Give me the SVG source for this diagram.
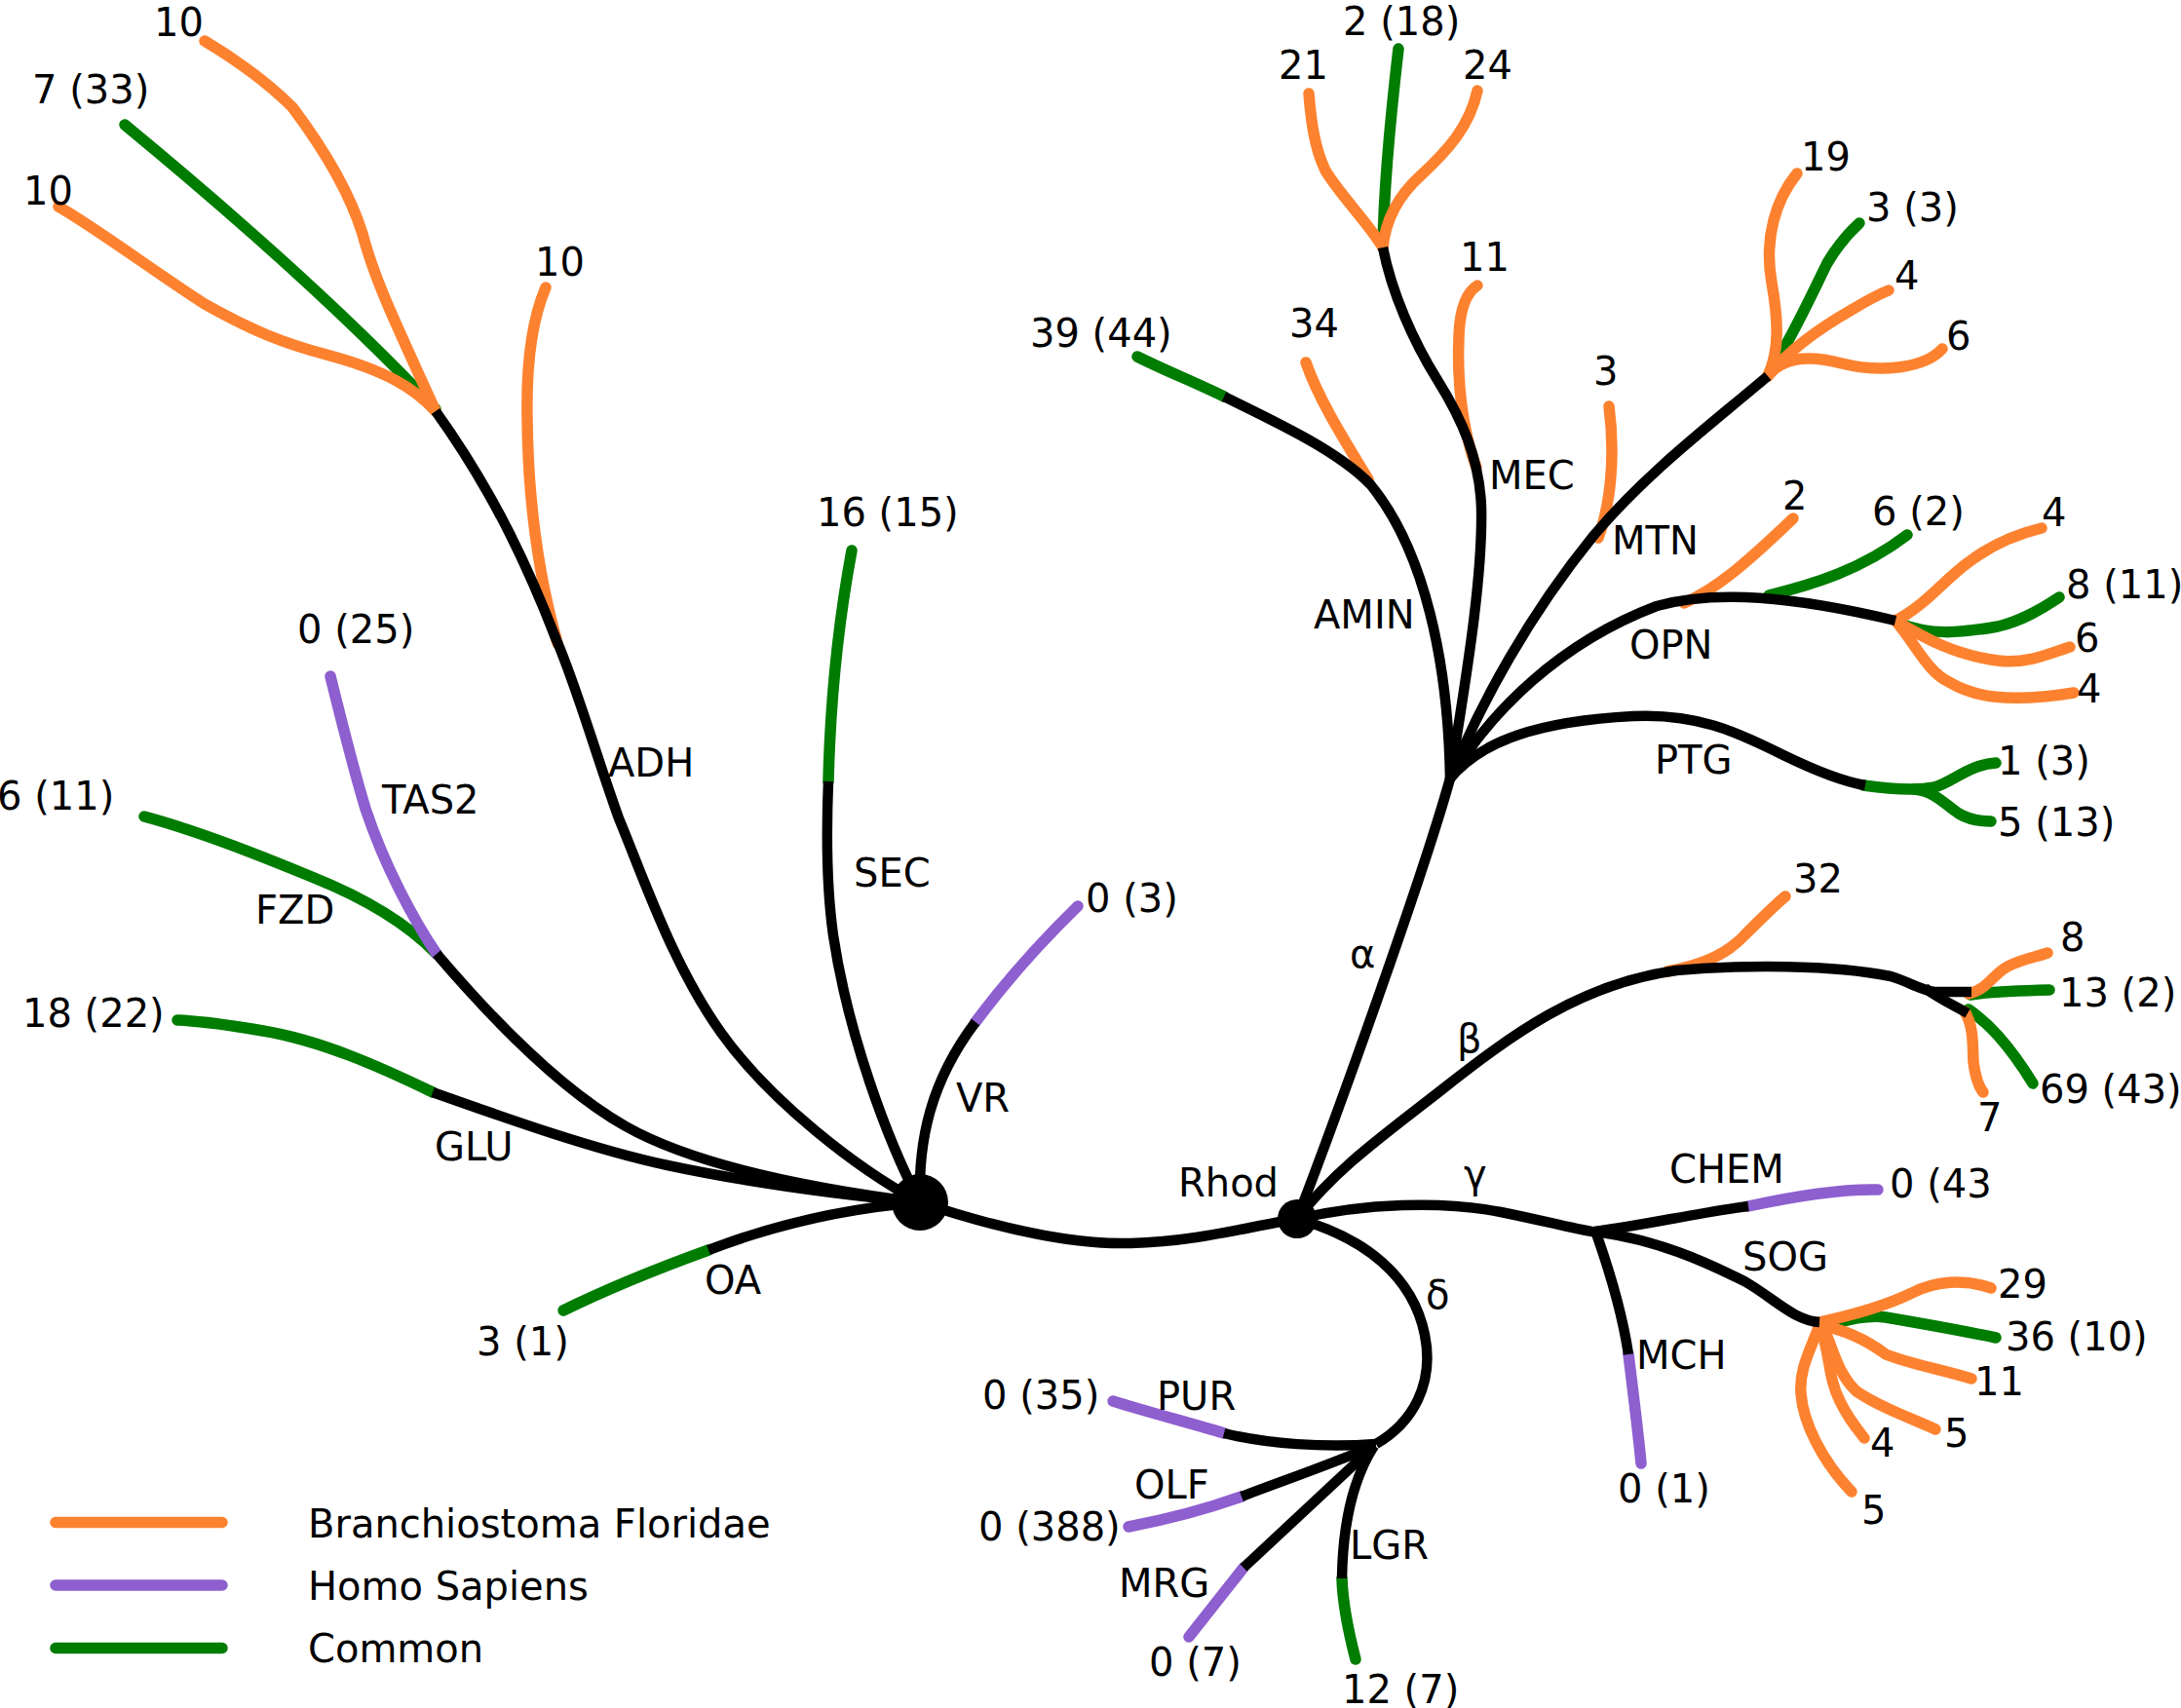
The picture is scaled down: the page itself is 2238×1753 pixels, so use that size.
<svg xmlns="http://www.w3.org/2000/svg" width="2238" height="1753" viewBox="0 0 2238 1753">
<style>
path{fill:none}
.k{stroke:#000;stroke-width:10.5;stroke-linecap:butt;stroke-linejoin:round}
.o,.p,.g{stroke-width:11.5;stroke-linecap:round;stroke-linejoin:round}
.o{stroke:#fd8230}
.p{stroke:#8e5fcf}
.g{stroke:#007c00}
text{font-family:"DejaVu Sans","Liberation Sans",sans-serif;font-size:40px;fill:#000}
</style>
<rect width="2238" height="1753" fill="#fff"/>
<g id="connectors">
<g id="colored">
<path class="g" d="M447,420 C400,370 300,270 128,128"/>
<path class="o" d="M447,422 C410,340 385,290 372,240 C358,195 330,150 300,110 C270,80 240,60 210,42"/>
<path class="o" d="M447,422 C425,398 395,380 335,364 C290,352 260,340 210,312 C160,280 100,235 60,212"/>
<path class="o" d="M560,295 C545,330 540,380 541,430 C542,520 555,600 572,660"/>
<path class="g" d="M448,979 C415,945 370,920 320,900 C260,875 200,852 148,838"/>
<path class="p" d="M448,979 C425,945 395,890 375,830 C360,780 348,730 339,694"/>
<path class="g" d="M444,1121 C390,1095 330,1068 270,1058 C235,1052 210,1048 182,1047"/>
<path class="g" d="M727,1283 C680,1300 625,1322 578,1345"/>
<path class="g" d="M850,802 C852,720 860,640 874,565"/>
<path class="p" d="M1001,1049 C1030,1010 1070,965 1106,930"/>
<path class="g" d="M1256,407 C1225,392 1195,380 1167,366"/>
<path class="o" d="M1404,492 C1385,460 1355,415 1340,372"/>
<path class="o" d="M1515,480 C1500,440 1495,390 1497,345 C1498,315 1505,300 1516,293"/>
<path class="g" d="M1419,254 C1420,190 1428,110 1435,50"/>
<path class="o" d="M1419,254 C1405,230 1375,200 1360,175 C1348,150 1345,120 1343,96"/>
<path class="o" d="M1419,254 C1422,222 1438,198 1458,180 C1485,155 1508,130 1516,93"/>
<path class="o" d="M1640,552 C1652,520 1658,470 1651,417"/>
<path class="g" d="M1816,382 C1840,345 1860,300 1875,270 C1888,248 1898,238 1908,229"/>
<path class="o" d="M1814,386 C1826,360 1825,330 1818,290 C1810,245 1822,205 1844,178"/>
<path class="o" d="M1814,386 C1835,360 1865,338 1900,318 C1915,309 1928,302 1938,298"/>
<path class="o" d="M1814,386 C1830,365 1860,365 1890,373 C1930,383 1975,378 1993,358"/>
<path class="o" d="M1728,619 C1760,605 1790,580 1840,532"/>
<path class="g" d="M1815,611 C1860,600 1910,585 1957,549"/>
<path class="g" d="M1950,640 C1980,652 2010,650 2050,643 C2075,637 2095,625 2113,613"/>
<path class="o" d="M1945,637 C1975,622 1995,595 2020,577 C2045,558 2070,548 2095,542"/>
<path class="o" d="M1945,637 C1975,655 2005,672 2050,678 C2080,682 2105,670 2124,664"/>
<path class="o" d="M1945,637 C1965,660 1978,690 2000,700 C2025,715 2060,722 2128,711"/>
<path class="g" d="M1912,806 C1940,810 1965,812 1985,808 C2005,802 2020,785 2048,783"/>
<path class="g" d="M1965,810 C1985,812 1995,825 2010,835 C2020,841 2030,843 2043,843"/>
<path class="o" d="M1711,997 C1740,992 1770,982 1790,960 C1805,945 1820,930 1832,920"/>
<path class="g" d="M2022,1021 C2040,1018 2060,1017 2103,1016"/>
<path class="g" d="M2020,1036 C2040,1050 2060,1070 2086,1112"/>
<path class="o" d="M2020,1020 C2040,1015 2045,1000 2060,992 C2075,984 2090,982 2101,978"/>
<path class="o" d="M2016,1038 C2026,1055 2024,1075 2025,1090 C2027,1105 2030,1115 2035,1121"/>
<path class="p" d="M1794,1238 C1840,1228 1890,1220 1927,1221"/>
<path class="p" d="M1671,1390 C1676,1430 1681,1470 1684,1502"/>
<path class="g" d="M1885,1358 C1905,1352 1920,1350 1935,1352 C1970,1358 2010,1365 2048,1373"/>
<path class="o" d="M1867,1357 C1900,1350 1935,1340 1962,1327 C1985,1315 2015,1312 2043,1322"/>
<path class="o" d="M1867,1360 C1895,1365 1915,1375 1935,1390 C1960,1400 1990,1405 2023,1415"/>
<path class="o" d="M1870,1360 C1880,1380 1885,1410 1905,1428 C1930,1445 1960,1455 1986,1467"/>
<path class="o" d="M1868,1362 C1878,1390 1876,1415 1888,1438 C1896,1455 1905,1466 1913,1476"/>
<path class="o" d="M1867,1360 C1858,1385 1846,1405 1848,1430 C1850,1460 1870,1500 1900,1531"/>
<path class="p" d="M1256,1471 C1220,1460 1180,1450 1142,1438"/>
<path class="p" d="M1274,1536 C1235,1550 1195,1560 1158,1567"/>
<path class="p" d="M1276,1609 C1258,1632 1240,1655 1220,1680"/>
<path class="g" d="M1377,1620 C1378,1650 1385,1680 1391,1703"/>
</g>
<g id="black">
<path class="k" d="M944,1234 C880,1200 790,1130 740,1060 C690,990 660,900 635,840 C610,770 590,700 571,657 C545,590 510,510 447,422"/>
<path class="k" d="M944,1234 C850,1222 720,1200 642,1156 C570,1115 500,1040 448,979"/>
<path class="k" d="M944,1234 C850,1225 760,1212 685,1196 C610,1180 520,1148 444,1121"/>
<path class="k" d="M944,1234 C870,1240 800,1255 727,1283"/>
<path class="k" d="M944,1234 C910,1170 870,1060 855,960 C848,910 848,850 850,802"/>
<path class="k" d="M944,1234 C942,1170 955,1110 1001,1049"/>
<path class="k" d="M944,1234 C1010,1256 1090,1278 1160,1276 C1230,1274 1280,1259 1331,1251"/>
<path class="k" d="M1331,1251 C1370,1150 1460,900 1488,799"/>
<path class="k" d="M1488,799 C1486,680 1462,565 1406,497 C1375,465 1320,438 1256,407"/>
<path class="k" d="M1488,799 C1500,720 1522,600 1520,520 C1518,470 1500,430 1475,390 C1450,350 1428,300 1419,254"/>
<path class="k" d="M1488,799 C1520,720 1570,630 1635,550 C1690,485 1750,440 1814,386"/>
<path class="k" d="M1488,799 C1530,730 1600,660 1700,622 C1760,605 1840,612 1945,637"/>
<path class="k" d="M1488,799 C1520,760 1580,740 1676,735 C1740,732 1780,750 1830,775 C1865,792 1890,802 1914,806"/>
<path class="k" d="M1331,1251 C1370,1200 1420,1165 1480,1118 C1550,1063 1620,1010 1720,996 C1790,990 1880,990 1940,1002 C1960,1008 1970,1016 1985,1018 L2023,1018"/>
<path class="k" d="M1975,1014 C1990,1025 2005,1032 2019,1040"/>
<path class="k" d="M1331,1251 C1400,1235 1480,1232 1540,1244 C1580,1252 1610,1260 1638,1265"/>
<path class="k" d="M1636,1264 C1690,1257 1740,1245 1794,1238"/>
<path class="k" d="M1638,1266 C1650,1300 1665,1350 1671,1390"/>
<path class="k" d="M1636,1264 C1700,1272 1750,1295 1790,1315 C1820,1332 1840,1355 1867,1357"/>
<path class="k" d="M1331,1251 C1400,1270 1450,1310 1462,1370 C1472,1420 1450,1460 1412,1482"/>
<path class="k" d="M1412,1482 C1360,1486 1300,1482 1256,1471"/>
<path class="k" d="M1410,1484 C1360,1505 1310,1522 1274,1536"/>
<path class="k" d="M1410,1484 L1276,1609"/>
<path class="k" d="M1410,1484 C1390,1515 1378,1560 1377,1620"/>
</g>
</g>
<g id="node-hub"><circle cx="944" cy="1234" r="29" fill="#000"/></g>
<g id="node-rhod"><circle cx="1331" cy="1251" r="20" fill="#000"/><text x="1209" y="1228">Rhod</text></g>
<g id="labels">
<text x="158" y="37">10</text>
<text x="33" y="106">7 (33)</text>
<text x="24" y="210">10</text>
<text x="549" y="283">10</text>
<text x="305" y="660">0 (25)</text>
<text x="392" y="835">TAS2</text>
<text x="624" y="797">ADH</text>
<text x="-3" y="831">6 (11)</text>
<text x="262" y="948">FZD</text>
<text x="23" y="1054">18 (22)</text>
<text x="446" y="1191">GLU</text>
<text x="723" y="1328">OA</text>
<text x="489" y="1391">3 (1)</text>
<text x="838" y="540">16 (15)</text>
<text x="876" y="910">SEC</text>
<text x="981" y="1141">VR</text>
<text x="1114" y="936">0 (3)</text>
<text x="1057" y="356">39 (44)</text>
<text x="1323" y="346">34</text>
<text x="1348" y="645">AMIN</text>
<text x="1312" y="81">21</text>
<text x="1378" y="36">2 (18)</text>
<text x="1501" y="81">24</text>
<text x="1498" y="278">11</text>
<text x="1528" y="502">MEC</text>
<text x="1635" y="395">3</text>
<text x="1654" y="569">MTN</text>
<text x="1848" y="175">19</text>
<text x="1915" y="227">3 (3)</text>
<text x="1944" y="297">4</text>
<text x="1997" y="359">6</text>
<text x="1829" y="523">2</text>
<text x="1921" y="539">6 (2)</text>
<text x="2095" y="540">4</text>
<text x="2120" y="614">8 (11)</text>
<text x="2129" y="669">6</text>
<text x="2131" y="721">4</text>
<text x="1672" y="676">OPN</text>
<text x="1698" y="794">PTG</text>
<text x="2050" y="795">1 (3)</text>
<text x="2050" y="858">5 (13)</text>
<text x="1385" y="993">α</text>
<text x="1840" y="916">32</text>
<text x="2114" y="976">8</text>
<text x="2113" y="1033">13 (2)</text>
<text x="2029" y="1161">7</text>
<text x="2093" y="1132">69 (43)</text>
<text x="1495" y="1080">β</text>
<text x="1502" y="1219">γ</text>
<text x="1713" y="1214">CHEM</text>
<text x="1939" y="1229">0 (43</text>
<text x="1788" y="1304">SOG</text>
<text x="1679" y="1405">MCH</text>
<text x="1660" y="1542">0 (1)</text>
<text x="2050" y="1332">29</text>
<text x="2058" y="1386">36 (10)</text>
<text x="2026" y="1432">11</text>
<text x="1995" y="1485">5</text>
<text x="1919" y="1495">4</text>
<text x="1910" y="1564">5</text>
<text x="1463" y="1343">δ</text>
<text x="1008" y="1446">0 (35)</text>
<text x="1187" y="1447">PUR</text>
<text x="1164" y="1538">OLF</text>
<text x="1004" y="1581">0 (388)</text>
<text x="1148" y="1639">MRG</text>
<text x="1179" y="1720">0 (7)</text>
<text x="1385" y="1600">LGR</text>
<text x="1377" y="1748">12 (7)</text>
</g>
<g id="legend">
<path class="o" d="M57,1562.5 L228,1562.5"/>
<path class="p" d="M57,1627 L228,1627"/>
<path class="g" d="M57,1691.5 L228,1691.5"/>
<text x="316" y="1578">Branchiostoma Floridae</text>
<text x="316" y="1642">Homo Sapiens</text>
<text x="316" y="1706">Common</text>
</g>
</svg>
